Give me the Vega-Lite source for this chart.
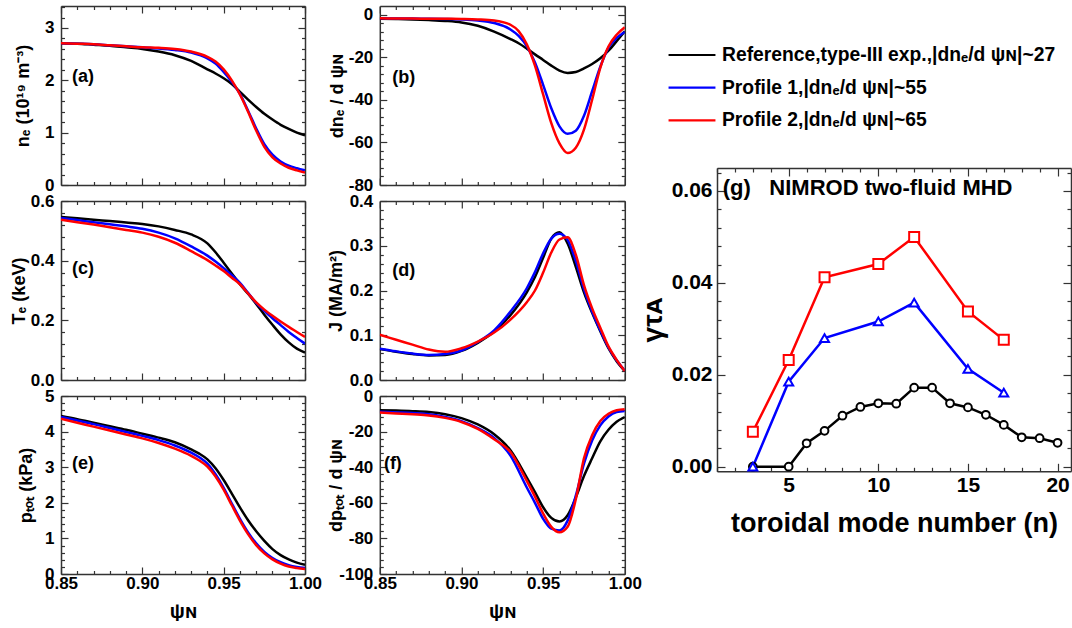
{
"$schema": "https://vega.github.io/schema/vega-lite/v6.json",
"autosize": {"type": "pad"},
"padding": {"left": 10, "top": 5, "right": 0, "bottom": 0},
"background": "white",
"spacing": 5.8,
"datasets": {
"a": [
{"x":0.85,"k":2.71,"m":2.71,"r":2.71},{"x":0.86,"k":2.70,"m":2.70,"r":2.70},{"x":0.87,"k":2.68,"m":2.69,"r":2.69},{"x":0.88,"k":2.66,"m":2.67,"r":2.67},{"x":0.89,"k":2.63,"m":2.65,"r":2.65},{"x":0.90,"k":2.60,"m":2.63,"r":2.63},{"x":0.91,"k":2.55,"m":2.61,"r":2.62},{"x":0.92,"k":2.48,"m":2.58,"r":2.60},{"x":0.93,"k":2.37,"m":2.53,"r":2.55},{"x":0.94,"k":2.21,"m":2.42,"r":2.45},{"x":0.945,"k":2.13,"m":2.32,"r":2.36},{"x":0.95,"k":2.04,"m":2.16,"r":2.21},{"x":0.955,"k":1.93,"m":1.97,"r":2.00},{"x":0.96,"k":1.78,"m":1.74,"r":1.73},{"x":0.965,"k":1.63,"m":1.42,"r":1.40},{"x":0.97,"k":1.49,"m":1.08,"r":1.04},{"x":0.975,"k":1.36,"m":0.78,"r":0.73},{"x":0.98,"k":1.25,"m":0.58,"r":0.53},{"x":0.985,"k":1.15,"m":0.45,"r":0.41},{"x":0.99,"k":1.07,"m":0.37,"r":0.33},{"x":0.995,"k":1.00,"m":0.32,"r":0.28},{"x":1.0,"k":0.95,"m":0.28,"r":0.24}],
"b": [
{"x":0.85,"k":-2.0,"m":-1.8,"r":-1.8},{"x":0.86,"k":-2.1,"m":-1.85,"r":-1.85},{"x":0.87,"k":-2.3,"m":-1.9,"r":-1.9},{"x":0.88,"k":-2.6,"m":-2.0,"r":-1.95},{"x":0.89,"k":-3.0,"m":-2.1,"r":-2.0},{"x":0.90,"k":-3.7,"m":-2.3,"r":-2.1},{"x":0.91,"k":-5.3,"m":-2.8,"r":-2.3},{"x":0.92,"k":-8.0,"m":-4.0,"r":-2.8},{"x":0.93,"k":-11.5,"m":-7.0,"r":-4.8},{"x":0.935,"k":-13.5,"m":-10.0,"r":-7.8},{"x":0.94,"k":-16.0,"m":-14.8,"r":-14.0},{"x":0.945,"k":-18.7,"m":-22.5,"r":-24.0},{"x":0.95,"k":-21.3,"m":-33.0,"r":-37.5},{"x":0.955,"k":-24.0,"m":-44.0,"r":-51.0},{"x":0.96,"k":-26.3,"m":-52.5,"r":-60.5},{"x":0.965,"k":-27.4,"m":-56.0,"r":-65.0},{"x":0.97,"k":-27.0,"m":-54.5,"r":-62.5},{"x":0.975,"k":-25.3,"m":-47.5,"r":-54.0},{"x":0.98,"k":-23.2,"m":-36.0,"r":-40.0},{"x":0.985,"k":-20.5,"m":-24.5,"r":-25.0},{"x":0.99,"k":-17.0,"m":-15.5,"r":-15.0},{"x":0.995,"k":-12.5,"m":-11.0,"r":-9.5},{"x":1.0,"k":-7.9,"m":-8.2,"r":-6.0}],
"c": [
{"x":0.85,"k":0.546,"m":0.543,"r":0.537},{"x":0.86,"k":0.542,"m":0.536,"r":0.529},{"x":0.87,"k":0.537,"m":0.529,"r":0.521},{"x":0.88,"k":0.533,"m":0.522,"r":0.512},{"x":0.89,"k":0.528,"m":0.515,"r":0.503},{"x":0.90,"k":0.523,"m":0.507,"r":0.494},{"x":0.91,"k":0.515,"m":0.494,"r":0.480},{"x":0.92,"k":0.503,"m":0.475,"r":0.460},{"x":0.93,"k":0.488,"m":0.448,"r":0.432},{"x":0.94,"k":0.458,"m":0.417,"r":0.402},{"x":0.945,"k":0.428,"m":0.397,"r":0.384},{"x":0.95,"k":0.393,"m":0.375,"r":0.365},{"x":0.955,"k":0.357,"m":0.351,"r":0.343},{"x":0.96,"k":0.321,"m":0.326,"r":0.321},{"x":0.965,"k":0.289,"m":0.292,"r":0.290},{"x":0.97,"k":0.255,"m":0.258,"r":0.260},{"x":0.975,"k":0.219,"m":0.232,"r":0.236},{"x":0.98,"k":0.185,"m":0.207,"r":0.215},{"x":0.985,"k":0.153,"m":0.184,"r":0.196},{"x":0.99,"k":0.126,"m":0.161,"r":0.178},{"x":0.995,"k":0.105,"m":0.141,"r":0.161},{"x":1.0,"k":0.092,"m":0.122,"r":0.144}],
"d": [
{"x":0.85,"k":0.069,"m":0.070,"r":0.101},{"x":0.86,"k":0.063,"m":0.064,"r":0.090},{"x":0.87,"k":0.058,"m":0.059,"r":0.079},{"x":0.88,"k":0.055,"m":0.056,"r":0.068},{"x":0.89,"k":0.056,"m":0.058,"r":0.063},{"x":0.90,"k":0.065,"m":0.066,"r":0.071},{"x":0.91,"k":0.083,"m":0.085,"r":0.086},{"x":0.92,"k":0.108,"m":0.111,"r":0.106},{"x":0.93,"k":0.145,"m":0.153,"r":0.135},{"x":0.94,"k":0.196,"m":0.205,"r":0.174},{"x":0.945,"k":0.230,"m":0.241,"r":0.200},{"x":0.95,"k":0.273,"m":0.283,"r":0.240},{"x":0.955,"k":0.316,"m":0.316,"r":0.285},{"x":0.96,"k":0.330,"m":0.327,"r":0.314},{"x":0.965,"k":0.305,"m":0.313,"r":0.319},{"x":0.97,"k":0.253,"m":0.266,"r":0.280},{"x":0.975,"k":0.196,"m":0.203,"r":0.212},{"x":0.98,"k":0.150,"m":0.153,"r":0.160},{"x":0.985,"k":0.109,"m":0.111,"r":0.117},{"x":0.99,"k":0.071,"m":0.073,"r":0.075},{"x":0.995,"k":0.042,"m":0.044,"r":0.045},{"x":1.0,"k":0.020,"m":0.021,"r":0.020}],
"e": [
{"x":0.85,"k":4.44,"m":4.41,"r":4.36},{"x":0.86,"k":4.35,"m":4.31,"r":4.25},{"x":0.87,"k":4.25,"m":4.21,"r":4.14},{"x":0.88,"k":4.15,"m":4.10,"r":4.03},{"x":0.89,"k":4.05,"m":3.99,"r":3.92},{"x":0.90,"k":3.94,"m":3.88,"r":3.81},{"x":0.91,"k":3.83,"m":3.76,"r":3.68},{"x":0.92,"k":3.70,"m":3.61,"r":3.52},{"x":0.93,"k":3.50,"m":3.41,"r":3.32},{"x":0.935,"k":3.38,"m":3.28,"r":3.19},{"x":0.94,"k":3.22,"m":3.10,"r":3.02},{"x":0.945,"k":2.97,"m":2.80,"r":2.74},{"x":0.95,"k":2.64,"m":2.42,"r":2.37},{"x":0.955,"k":2.26,"m":1.98,"r":1.93},{"x":0.96,"k":1.87,"m":1.55,"r":1.50},{"x":0.965,"k":1.51,"m":1.17,"r":1.12},{"x":0.97,"k":1.20,"m":0.86,"r":0.81},{"x":0.975,"k":0.93,"m":0.62,"r":0.58},{"x":0.98,"k":0.70,"m":0.45,"r":0.41},{"x":0.985,"k":0.53,"m":0.33,"r":0.29},{"x":0.99,"k":0.41,"m":0.25,"r":0.21},{"x":0.995,"k":0.32,"m":0.20,"r":0.17},{"x":1.0,"k":0.26,"m":0.17,"r":0.14}],
"f": [
{"x":0.85,"k":-8.0,"m":-8.8,"r":-9.3},{"x":0.86,"k":-8.2,"m":-9.2,"r":-9.8},{"x":0.87,"k":-8.5,"m":-9.6,"r":-10.3},{"x":0.88,"k":-9.0,"m":-10.2,"r":-10.9},{"x":0.89,"k":-10.2,"m":-11.8,"r":-12.3},{"x":0.90,"k":-12.4,"m":-14.1,"r":-14.6},{"x":0.91,"k":-16.0,"m":-18.0,"r":-18.5},{"x":0.92,"k":-21.5,"m":-23.5,"r":-24.3},{"x":0.93,"k":-30.5,"m":-33.5,"r":-31.5},{"x":0.94,"k":-45.8,"m":-51.4,"r":-47.7},{"x":0.945,"k":-54.0,"m":-60.0,"r":-56.5},{"x":0.95,"k":-62.5,"m":-69.0,"r":-66.0},{"x":0.955,"k":-68.5,"m":-74.5,"r":-73.5},{"x":0.96,"k":-70.5,"m":-75.5,"r":-76.6},{"x":0.965,"k":-67.0,"m":-70.0,"r":-73.5},{"x":0.97,"k":-57.0,"m":-56.0,"r":-58.0},{"x":0.975,"k":-45.0,"m":-38.0,"r":-35.0},{"x":0.98,"k":-35.0,"m":-25.0,"r":-22.0},{"x":0.985,"k":-25.5,"m":-16.5,"r":-14.0},{"x":0.99,"k":-19.0,"m":-11.5,"r":-10.0},{"x":0.995,"k":-14.5,"m":-9.0,"r":-8.0},{"x":1.0,"k":-11.8,"m":-8.4,"r":-7.5}],
"g": [
{"n":3,"s":"k","q":"K","v":0.0},{"n":5,"s":"k","q":"K","v":0.0},{"n":6,"s":"k","q":"K","v":0.0051},{"n":7,"s":"k","q":"K","v":0.0078},{"n":8,"s":"k","q":"K","v":0.0111},{"n":9,"s":"k","q":"K","v":0.0130},{"n":10,"s":"k","q":"K","v":0.0138},{"n":11,"s":"k","q":"K","v":0.0137},{"n":12,"s":"k","q":"K","v":0.0172},{"n":13,"s":"k","q":"K","v":0.0172},{"n":14,"s":"k","q":"K","v":0.0138},{"n":15,"s":"k","q":"K","v":0.0129},{"n":16,"s":"k","q":"K","v":0.0113},{"n":17,"s":"k","q":"K","v":0.0091},{"n":18,"s":"k","q":"K","v":0.0064},{"n":19,"s":"k","q":"K","v":0.0062},{"n":20,"s":"k","q":"K","v":0.0052},
{"n":3,"s":"m","q":"M","v":0.0},{"n":5,"s":"m","q":"M","v":0.0185},{"n":7,"s":"m","q":"M","v":0.0280},{"n":10,"s":"m","q":"M","v":0.0316},{"n":12,"s":"m","q":"M","v":0.0357},{"n":15,"s":"m","q":"M","v":0.0213},{"n":17,"s":"m","q":"M","v":0.0161},
{"n":3,"s":"r","q":"R","v":0.0076},{"n":5,"s":"r","q":"R","v":0.0232},{"n":7,"s":"r","q":"R","v":0.0412},{"n":10,"s":"r","q":"R","v":0.0441},{"n":12,"s":"r","q":"R","v":0.0500},{"n":15,"s":"r","q":"R","v":0.0338},{"n":17,"s":"r","q":"R","v":0.0276}]
},
"hconcat": [
{"vconcat": [
{"width":244,"height":179,"data":{"name":"a"},"transform":[{"fold":["k","m","r"],"as":["s","v"]}],
"layer":[
{"mark":{"type":"line","strokeWidth":2.5,"interpolate":"monotone","clip":true},
"encoding":{
"x":{"field":"x","type":"quantitative","scale":{"domain":[0.85,1.0],"nice":false,"zero":false},"axis":{"orient":"bottom","values":[0.85,0.86,0.87,0.88,0.89,0.9,0.91,0.92,0.93,0.94,0.95,0.96,0.97,0.98,0.99,1],"labels":false,"title":null,"tickSize":{"condition":{"test":"abs(datum.value*20-round(datum.value*20))<0.001","value":-7},"value":-3.5}}},
"y":{"field":"v","type":"quantitative","scale":{"domain":[0,3.42],"nice":false,"zero":false},"axis":{"orient":"left","values":[0,0.2,0.4,0.6,0.8,1,1.2,1.4,1.6,1.8,2,2.2,2.4,2.6,2.8,3,3.2,3.4],"tickSize":{"condition":{"test":"abs(datum.value-round(datum.value))<0.001","value":-7},"value":-3.5},"labelFontSize":{"condition":{"test":"abs(datum.value-round(datum.value))<0.001","value":17},"value":1},"labelExpr":"abs(datum.value-round(datum.value))<0.001 ? format(datum.value,'d') : ''","labelPadding":14,"title":"nₑ (10¹⁹ m⁻³)","titleX":-38,"titleY":89.5,"titleBaseline":"middle"}},
"color":{"field":"s","type":"nominal","scale":{"domain":["k","m","r"],"range":["#000000","#0000ff","#ff0000"]},
"legend":{"orient":"none","legendX":606,"legendY":39,"title":null,"symbolType":"stroke","symbolSize":2200,"symbolStrokeWidth":2.2,"labelFont":"Liberation Sans","labelFontSize":19.3,"labelFontWeight":"bold","labelColor":"#000000","labelOffset":5,"rowPadding":11.7,"clipHeight":20,"padding":0,"labelLimit":600,"labelExpr":"datum.label=='k' ? 'Reference,type-III exp.,|dnₑ/d ψɴ|~27' : datum.label=='m' ? 'Profile 1,|dnₑ/d ψɴ|~55' : 'Profile 2,|dnₑ/d ψɴ|~65'"}}}},
{"mark":{"type":"line","strokeOpacity":0},
"encoding":{
"x":{"field":"x","type":"quantitative","scale":{"domain":[0.85,1.0],"nice":false,"zero":false},"axis":{"orient":"top","values":[0.85,0.86,0.87,0.88,0.89,0.9,0.91,0.92,0.93,0.94,0.95,0.96,0.97,0.98,0.99,1],"labels":false,"title":null,"tickSize":{"condition":{"test":"abs(datum.value*20-round(datum.value*20))<0.001","value":-7},"value":-3.5}}},
"y":{"field":"v","type":"quantitative","scale":{"domain":[0,3.42],"nice":false,"zero":false},"axis":{"orient":"right","values":[0,0.2,0.4,0.6,0.8,1,1.2,1.4,1.6,1.8,2,2.2,2.4,2.6,2.8,3,3.2,3.4],"labels":false,"title":null,"tickSize":{"condition":{"test":"abs(datum.value-round(datum.value))<0.001","value":-7},"value":-3.5}}},
"detail":{"field":"s"}}},
{"data":{"values":[{"t":"(a)"}]},"mark":{"type":"text","align":"left","baseline":"middle","fontSize":18,"fontWeight":"bold","font":"Liberation Sans"},
"encoding":{"x":{"datum":0.8568,"type":"quantitative","scale":{"domain":[0.85,1.0],"nice":false,"zero":false},"axis":null},"y":{"datum":2.06,"type":"quantitative","scale":{"domain":[0,3.42],"nice":false,"zero":false},"axis":null},"text":{"field":"t"}}}
],
"resolve":{"axis":{"x":"independent","y":"independent"}}},
{"width":244,"height":179,"data":{"name":"c"},"transform":[{"fold":["k","m","r"],"as":["s","v"]}],
"layer":[
{"mark":{"type":"line","strokeWidth":2.5,"interpolate":"monotone","clip":true},
"encoding":{
"x":{"field":"x","type":"quantitative","scale":{"domain":[0.85,1.0],"nice":false,"zero":false},"axis":{"orient":"bottom","values":[0.85,0.86,0.87,0.88,0.89,0.9,0.91,0.92,0.93,0.94,0.95,0.96,0.97,0.98,0.99,1],"labels":false,"title":null,"tickSize":{"condition":{"test":"abs(datum.value*20-round(datum.value*20))<0.001","value":-7},"value":-3.5}}},
"y":{"field":"v","type":"quantitative","scale":{"domain":[0,0.6],"nice":false,"zero":false},"axis":{"orient":"left","values":[0,0.04,0.08,0.12,0.16,0.2,0.24,0.28,0.32,0.36,0.4,0.44,0.48,0.52,0.56,0.6],"tickSize":{"condition":{"test":"abs(datum.value*5-round(datum.value*5))<0.001","value":-7},"value":-3.5},"labelFontSize":{"condition":{"test":"abs(datum.value*5-round(datum.value*5))<0.001","value":17},"value":1},"labelExpr":"abs(datum.value*5-round(datum.value*5))<0.001 ? format(datum.value,'.1f') : ''","labelPadding":14,"title":"Tₑ (keV)","titleX":-42,"titleY":89.5,"titleBaseline":"middle"}},
"color":{"field":"s","type":"nominal","scale":{"domain":["k","m","r"],"range":["#000000","#0000ff","#ff0000"]}}}},
{"mark":{"type":"line","strokeOpacity":0},
"encoding":{
"x":{"field":"x","type":"quantitative","scale":{"domain":[0.85,1.0],"nice":false,"zero":false},"axis":{"orient":"top","values":[0.85,0.86,0.87,0.88,0.89,0.9,0.91,0.92,0.93,0.94,0.95,0.96,0.97,0.98,0.99,1],"labels":false,"title":null,"tickSize":{"condition":{"test":"abs(datum.value*20-round(datum.value*20))<0.001","value":-7},"value":-3.5}}},
"y":{"field":"v","type":"quantitative","scale":{"domain":[0,0.6],"nice":false,"zero":false},"axis":{"orient":"right","values":[0,0.04,0.08,0.12,0.16,0.2,0.24,0.28,0.32,0.36,0.4,0.44,0.48,0.52,0.56,0.6],"labels":false,"title":null,"tickSize":{"condition":{"test":"abs(datum.value*5-round(datum.value*5))<0.001","value":-7},"value":-3.5}}},
"detail":{"field":"s"}}},
{"data":{"values":[{"t":"(c)"}]},"mark":{"type":"text","align":"left","baseline":"middle","fontSize":18,"fontWeight":"bold","font":"Liberation Sans"},
"encoding":{"x":{"datum":0.8568,"type":"quantitative","scale":{"domain":[0.85,1.0],"nice":false,"zero":false},"axis":null},"y":{"datum":0.371,"type":"quantitative","scale":{"domain":[0,0.6],"nice":false,"zero":false},"axis":null},"text":{"field":"t"}}}
],
"resolve":{"axis":{"x":"independent","y":"independent"}}},
{"width":244,"height":178,"data":{"name":"e"},"transform":[{"fold":["k","m","r"],"as":["s","v"]}],
"layer":[
{"mark":{"type":"line","strokeWidth":2.5,"interpolate":"monotone","clip":true},
"encoding":{
"x":{"field":"x","type":"quantitative","scale":{"domain":[0.85,1.0],"nice":false,"zero":false},"axis":{"orient":"bottom","values":[0.85,0.86,0.87,0.88,0.89,0.9,0.91,0.92,0.93,0.94,0.95,0.96,0.97,0.98,0.99,1],"tickSize":{"condition":{"test":"abs(datum.value*20-round(datum.value*20))<0.001","value":-7},"value":-3.5},"labelFontSize":{"condition":{"test":"abs(datum.value*20-round(datum.value*20))<0.001","value":17},"value":1},"labelExpr":"abs(datum.value*20-round(datum.value*20))<0.001 ? format(datum.value,'.2f') : ''","labelPadding":8,"title":"ψɴ","titleFontSize":20,"titleY":37,"titleBaseline":"middle"}},
"y":{"field":"v","type":"quantitative","scale":{"domain":[0,5],"nice":false,"zero":false},"axis":{"orient":"left","values":[0,0.2,0.4,0.6,0.8,1,1.2,1.4,1.6,1.8,2,2.2,2.4,2.6,2.8,3,3.2,3.4,3.6,3.8,4,4.2,4.4,4.6,4.8,5],"tickSize":{"condition":{"test":"abs(datum.value-round(datum.value))<0.001","value":-7},"value":-3.5},"labelFontSize":{"condition":{"test":"abs(datum.value-round(datum.value))<0.001","value":17},"value":1},"labelExpr":"abs(datum.value-round(datum.value))<0.001 ? format(datum.value,'d') : ''","labelPadding":14,"title":"pₜₒₜ (kPa)","titleX":-35,"titleY":89,"titleBaseline":"middle"}},
"color":{"field":"s","type":"nominal","scale":{"domain":["k","m","r"],"range":["#000000","#0000ff","#ff0000"]}}}},
{"mark":{"type":"line","strokeOpacity":0},
"encoding":{
"x":{"field":"x","type":"quantitative","scale":{"domain":[0.85,1.0],"nice":false,"zero":false},"axis":{"orient":"top","values":[0.85,0.86,0.87,0.88,0.89,0.9,0.91,0.92,0.93,0.94,0.95,0.96,0.97,0.98,0.99,1],"labels":false,"title":null,"tickSize":{"condition":{"test":"abs(datum.value*20-round(datum.value*20))<0.001","value":-7},"value":-3.5}}},
"y":{"field":"v","type":"quantitative","scale":{"domain":[0,5],"nice":false,"zero":false},"axis":{"orient":"right","values":[0,0.2,0.4,0.6,0.8,1,1.2,1.4,1.6,1.8,2,2.2,2.4,2.6,2.8,3,3.2,3.4,3.6,3.8,4,4.2,4.4,4.6,4.8,5],"labels":false,"title":null,"tickSize":{"condition":{"test":"abs(datum.value-round(datum.value))<0.001","value":-7},"value":-3.5}}},
"detail":{"field":"s"}}},
{"data":{"values":[{"t":"(e)"}]},"mark":{"type":"text","align":"left","baseline":"middle","fontSize":18,"fontWeight":"bold","font":"Liberation Sans"},
"encoding":{"x":{"datum":0.8568,"type":"quantitative","scale":{"domain":[0.85,1.0],"nice":false,"zero":false},"axis":null},"y":{"datum":3.08,"type":"quantitative","scale":{"domain":[0,5],"nice":false,"zero":false},"axis":null},"text":{"field":"t"}}}
],
"resolve":{"axis":{"x":"independent","y":"independent"}}}
],"spacing":16,"bounds":"flush"},
{"hconcat":[
{"vconcat":[
{"width":245,"height":179,"data":{"name":"b"},"transform":[{"fold":["k","m","r"],"as":["s","v"]}],
"layer":[
{"mark":{"type":"line","strokeWidth":2.5,"interpolate":"monotone","clip":true},
"encoding":{
"x":{"field":"x","type":"quantitative","scale":{"domain":[0.85,1.0],"nice":false,"zero":false},"axis":{"orient":"bottom","values":[0.85,0.86,0.87,0.88,0.89,0.9,0.91,0.92,0.93,0.94,0.95,0.96,0.97,0.98,0.99,1],"labels":false,"title":null,"tickSize":{"condition":{"test":"abs(datum.value*20-round(datum.value*20))<0.001","value":-7},"value":-3.5}}},
"y":{"field":"v","type":"quantitative","scale":{"domain":[-80,4],"nice":false,"zero":false},"axis":{"orient":"left","values":[-80,-76,-72,-68,-64,-60,-56,-52,-48,-44,-40,-36,-32,-28,-24,-20,-16,-12,-8,-4,0],"tickSize":{"condition":{"test":"datum.value%20==0","value":-7},"value":-3.5},"labelFontSize":{"condition":{"test":"datum.value%20==0","value":17},"value":1},"labelExpr":"datum.value%20==0 ? ''+datum.value : ''","labelPadding":14,"title":"dnₑ / d ψɴ","titleX":-42,"titleY":89.5,"titleBaseline":"middle"}},
"color":{"field":"s","type":"nominal","scale":{"domain":["k","m","r"],"range":["#000000","#0000ff","#ff0000"]}}}},
{"mark":{"type":"line","strokeOpacity":0},
"encoding":{
"x":{"field":"x","type":"quantitative","scale":{"domain":[0.85,1.0],"nice":false,"zero":false},"axis":{"orient":"top","values":[0.85,0.86,0.87,0.88,0.89,0.9,0.91,0.92,0.93,0.94,0.95,0.96,0.97,0.98,0.99,1],"labels":false,"title":null,"tickSize":{"condition":{"test":"abs(datum.value*20-round(datum.value*20))<0.001","value":-7},"value":-3.5}}},
"y":{"field":"v","type":"quantitative","scale":{"domain":[-80,4],"nice":false,"zero":false},"axis":{"orient":"right","values":[-80,-76,-72,-68,-64,-60,-56,-52,-48,-44,-40,-36,-32,-28,-24,-20,-16,-12,-8,-4,0],"labels":false,"title":null,"tickSize":{"condition":{"test":"datum.value%20==0","value":-7},"value":-3.5}}},
"detail":{"field":"s"}}},
{"data":{"values":[{"t":"(b)"}]},"mark":{"type":"text","align":"left","baseline":"middle","fontSize":18,"fontWeight":"bold","font":"Liberation Sans"},
"encoding":{"x":{"datum":0.8576,"type":"quantitative","scale":{"domain":[0.85,1.0],"nice":false,"zero":false},"axis":null},"y":{"datum":-29.6,"type":"quantitative","scale":{"domain":[-80,4],"nice":false,"zero":false},"axis":null},"text":{"field":"t"}}}
],
"resolve":{"axis":{"x":"independent","y":"independent"}}},
{"width":245,"height":179,"data":{"name":"d"},"transform":[{"fold":["k","m","r"],"as":["s","v"]}],
"layer":[
{"mark":{"type":"line","strokeWidth":2.5,"interpolate":"monotone","clip":true},
"encoding":{
"x":{"field":"x","type":"quantitative","scale":{"domain":[0.85,1.0],"nice":false,"zero":false},"axis":{"orient":"bottom","values":[0.85,0.86,0.87,0.88,0.89,0.9,0.91,0.92,0.93,0.94,0.95,0.96,0.97,0.98,0.99,1],"labels":false,"title":null,"tickSize":{"condition":{"test":"abs(datum.value*20-round(datum.value*20))<0.001","value":-7},"value":-3.5}}},
"y":{"field":"v","type":"quantitative","scale":{"domain":[0,0.4],"nice":false,"zero":false},"axis":{"orient":"left","values":[0,0.02,0.04,0.06,0.08,0.1,0.12,0.14,0.16,0.18,0.2,0.22,0.24,0.26,0.28,0.3,0.32,0.34,0.36,0.38,0.4],"tickSize":{"condition":{"test":"abs(datum.value*10-round(datum.value*10))<0.001","value":-7},"value":-3.5},"labelFontSize":{"condition":{"test":"abs(datum.value*10-round(datum.value*10))<0.001","value":17},"value":1},"labelExpr":"abs(datum.value*10-round(datum.value*10))<0.001 ? format(datum.value,'.1f') : ''","labelPadding":14,"title":"J (MA/m²)","titleX":-43,"titleY":89.5,"titleBaseline":"middle"}},
"color":{"field":"s","type":"nominal","scale":{"domain":["k","m","r"],"range":["#000000","#0000ff","#ff0000"]}}}},
{"mark":{"type":"line","strokeOpacity":0},
"encoding":{
"x":{"field":"x","type":"quantitative","scale":{"domain":[0.85,1.0],"nice":false,"zero":false},"axis":{"orient":"top","values":[0.85,0.86,0.87,0.88,0.89,0.9,0.91,0.92,0.93,0.94,0.95,0.96,0.97,0.98,0.99,1],"labels":false,"title":null,"tickSize":{"condition":{"test":"abs(datum.value*20-round(datum.value*20))<0.001","value":-7},"value":-3.5}}},
"y":{"field":"v","type":"quantitative","scale":{"domain":[0,0.4],"nice":false,"zero":false},"axis":{"orient":"right","values":[0,0.02,0.04,0.06,0.08,0.1,0.12,0.14,0.16,0.18,0.2,0.22,0.24,0.26,0.28,0.3,0.32,0.34,0.36,0.38,0.4],"labels":false,"title":null,"tickSize":{"condition":{"test":"abs(datum.value*10-round(datum.value*10))<0.001","value":-7},"value":-3.5}}},
"detail":{"field":"s"}}},
{"data":{"values":[{"t":"(d)"}]},"mark":{"type":"text","align":"left","baseline":"middle","fontSize":18,"fontWeight":"bold","font":"Liberation Sans"},
"encoding":{"x":{"datum":0.8576,"type":"quantitative","scale":{"domain":[0.85,1.0],"nice":false,"zero":false},"axis":null},"y":{"datum":0.2436,"type":"quantitative","scale":{"domain":[0,0.4],"nice":false,"zero":false},"axis":null},"text":{"field":"t"}}}
],
"resolve":{"axis":{"x":"independent","y":"independent"}}},
{"width":245,"height":178,"data":{"name":"f"},"transform":[{"fold":["k","m","r"],"as":["s","v"]}],
"layer":[
{"mark":{"type":"line","strokeWidth":2.5,"interpolate":"monotone","clip":true},
"encoding":{
"x":{"field":"x","type":"quantitative","scale":{"domain":[0.85,1.0],"nice":false,"zero":false},"axis":{"orient":"bottom","values":[0.85,0.86,0.87,0.88,0.89,0.9,0.91,0.92,0.93,0.94,0.95,0.96,0.97,0.98,0.99,1],"tickSize":{"condition":{"test":"abs(datum.value*20-round(datum.value*20))<0.001","value":-7},"value":-3.5},"labelFontSize":{"condition":{"test":"abs(datum.value*20-round(datum.value*20))<0.001","value":17},"value":1},"labelExpr":"abs(datum.value*20-round(datum.value*20))<0.001 ? format(datum.value,'.2f') : ''","labelPadding":8,"title":"ψɴ","titleFontSize":20,"titleY":37,"titleBaseline":"middle"}},
"y":{"field":"v","type":"quantitative","scale":{"domain":[-100,0],"nice":false,"zero":false},"axis":{"orient":"left","values":[-100,-96,-92,-88,-84,-80,-76,-72,-68,-64,-60,-56,-52,-48,-44,-40,-36,-32,-28,-24,-20,-16,-12,-8,-4,0],"tickSize":{"condition":{"test":"datum.value%20==0","value":-7},"value":-3.5},"labelFontSize":{"condition":{"test":"datum.value%20==0","value":17},"value":1},"labelExpr":"datum.value%20==0 ? ''+datum.value : ''","labelPadding":14,"title":"dpₜₒₜ / d ψɴ","titleX":-43,"titleY":89,"titleBaseline":"middle"}},
"color":{"field":"s","type":"nominal","scale":{"domain":["k","m","r"],"range":["#000000","#0000ff","#ff0000"]}}}},
{"mark":{"type":"line","strokeOpacity":0},
"encoding":{
"x":{"field":"x","type":"quantitative","scale":{"domain":[0.85,1.0],"nice":false,"zero":false},"axis":{"orient":"top","values":[0.85,0.86,0.87,0.88,0.89,0.9,0.91,0.92,0.93,0.94,0.95,0.96,0.97,0.98,0.99,1],"labels":false,"title":null,"tickSize":{"condition":{"test":"abs(datum.value*20-round(datum.value*20))<0.001","value":-7},"value":-3.5}}},
"y":{"field":"v","type":"quantitative","scale":{"domain":[-100,0],"nice":false,"zero":false},"axis":{"orient":"right","values":[-100,-96,-92,-88,-84,-80,-76,-72,-68,-64,-60,-56,-52,-48,-44,-40,-36,-32,-28,-24,-20,-16,-12,-8,-4,0],"labels":false,"title":null,"tickSize":{"condition":{"test":"datum.value%20==0","value":-7},"value":-3.5}}},
"detail":{"field":"s"}}},
{"data":{"values":[{"t":"(f)"}]},"mark":{"type":"text","align":"left","baseline":"middle","fontSize":18,"fontWeight":"bold","font":"Liberation Sans"},
"encoding":{"x":{"datum":0.8525,"type":"quantitative","scale":{"domain":[0.85,1.0],"nice":false,"zero":false},"axis":null},"y":{"datum":-38.3,"type":"quantitative","scale":{"domain":[-100,0],"nice":false,"zero":false},"axis":null},"text":{"field":"t"}}}
],
"resolve":{"axis":{"x":"independent","y":"independent"}}}
],"spacing":16,"bounds":"flush"},
{"vconcat":[
{"width":354,"height":145.7,"data":{"values":[{}]},"mark":{"type":"point","opacity":0}},
{"width":354,"height":303.3,"data":{"name":"g"},
"layer":[
{"mark":{"type":"line","strokeWidth":2.5},
"encoding":{
"x":{"field":"n","type":"quantitative","scale":{"domain":[1,20.75],"nice":false,"zero":false},"axis":{"orient":"bottom","values":[1,2,3,4,5,6,7,8,9,10,11,12,13,14,15,16,17,18,19,20],"tickSize":{"condition":{"test":"datum.value%5==0","value":-8},"value":-4},"labelFontSize":{"condition":{"test":"datum.value%5==0","value":21},"value":1},"labelExpr":"datum.value%5==0 ? ''+datum.value : ''","labelPadding":11,"title":"toroidal mode number (n)","titleFontSize":27,"titleY":52,"titleBaseline":"middle"}},
"y":{"field":"v","type":"quantitative","scale":{"domain":[-0.001,0.065],"nice":false,"zero":false},"axis":{"orient":"left","values":[0,0.004,0.008,0.012,0.016,0.02,0.024,0.028,0.032,0.036,0.04,0.044,0.048,0.052,0.056,0.06,0.064],"tickSize":{"condition":{"test":"abs(datum.value*50-round(datum.value*50))<0.001","value":-8},"value":-4},"labelFontSize":{"condition":{"test":"abs(datum.value*50-round(datum.value*50))<0.001","value":21},"value":1},"labelExpr":"abs(datum.value*50-round(datum.value*50))<0.001 ? format(datum.value,'.2f') : ''","labelPadding":13,"title":"γτᴀ","titleFontSize":28,"titleX":-64,"titleY":151.65,"titleBaseline":"middle"}},
"color":{"field":"s","type":"nominal","scale":{"domain":["k","m","r"],"range":["#000000","#0000ff","#ff0000"]}}}},
{"mark":{"type":"point","filled":true,"fill":"#ffffff","strokeWidth":2,"opacity":1},
"encoding":{
"x":{"field":"n","type":"quantitative","scale":{"domain":[1,20.75],"nice":false,"zero":false},"axis":null},
"y":{"field":"v","type":"quantitative","scale":{"domain":[-0.001,0.065],"nice":false,"zero":false},"axis":null},
"stroke":{"field":"q","type":"nominal","scale":{"domain":["K","M","R"],"range":["#000000","#0000ff","#ff0000"]},"legend":null},
"shape":{"field":"q","type":"nominal","scale":{"domain":["K","M","R"],"range":["circle","triangle-up","square"]},"legend":null},
"size":{"field":"q","type":"nominal","scale":{"domain":["K","M","R"],"range":[60,100,55]},"legend":null}}},
{"mark":{"type":"line","strokeOpacity":0},
"encoding":{
"x":{"field":"n","type":"quantitative","scale":{"domain":[1,20.75],"nice":false,"zero":false},"axis":{"orient":"top","values":[1,2,3,4,5,6,7,8,9,10,11,12,13,14,15,16,17,18,19,20],"labels":false,"title":null,"tickSize":{"condition":{"test":"datum.value%5==0","value":-8},"value":-4}}},
"y":{"field":"v","type":"quantitative","scale":{"domain":[-0.001,0.065],"nice":false,"zero":false},"axis":{"orient":"right","values":[0,0.004,0.008,0.012,0.016,0.02,0.024,0.028,0.032,0.036,0.04,0.044,0.048,0.052,0.056,0.06,0.064],"labels":false,"title":null,"tickSize":{"condition":{"test":"abs(datum.value*50-round(datum.value*50))<0.001","value":-8},"value":-4}}},
"detail":{"field":"s"}}},
{"data":{"values":[{"t":"(g)"}]},"mark":{"type":"text","align":"left","baseline":"middle","fontSize":22,"fontWeight":"bold","font":"Liberation Sans"},
"encoding":{"x":{"datum":1.32,"type":"quantitative","scale":{"domain":[1,20.75],"nice":false,"zero":false},"axis":null},"y":{"datum":0.0607,"type":"quantitative","scale":{"domain":[-0.001,0.065],"nice":false,"zero":false},"axis":null},"text":{"field":"t"}}},
{"data":{"values":[{"t":"NIMROD two-fluid MHD"}]},"mark":{"type":"text","align":"left","baseline":"middle","fontSize":22,"fontWeight":"bold","font":"Liberation Sans"},
"encoding":{"x":{"datum":3.92,"type":"quantitative","scale":{"domain":[1,20.75],"nice":false,"zero":false},"axis":null},"y":{"datum":0.0607,"type":"quantitative","scale":{"domain":[-0.001,0.065],"nice":false,"zero":false},"axis":null},"text":{"field":"t"}}}
],
"resolve":{"axis":{"x":"independent","y":"independent"}}}
],"spacing":16,"bounds":"flush"}
],"spacing":-2.8}
],
"config": {
"font":"Liberation Sans",
"view":{"stroke":null},
"axis":{"labelFont":"Liberation Sans","labelFontWeight":"bold","labelFontSize":17,"labelColor":"#000000","titleFont":"Liberation Sans","titleFontWeight":"bold","titleFontSize":18,"titleColor":"#000000","domainColor":"#333333","domainWidth":1.5,"tickColor":"#333333","tickWidth":1.2,"grid":false,"labelOverlap":false,"labelFlush":false,"labelBound":false}
}
}
